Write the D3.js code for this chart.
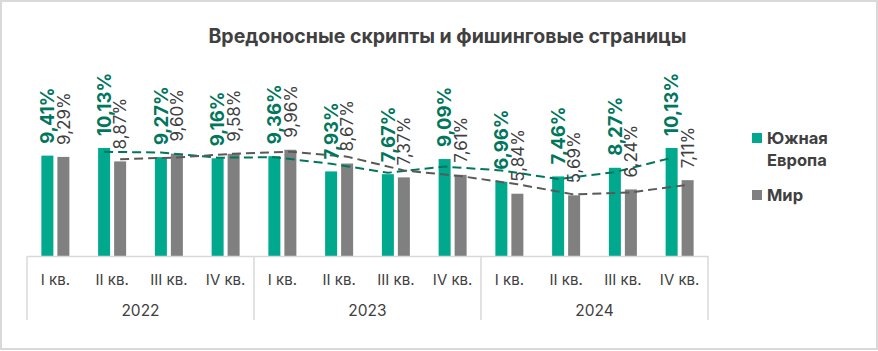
<!DOCTYPE html>
<html><head><meta charset="utf-8">
<script src="https://cdn.jsdelivr.net/npm/d3@7"></script>
<style>
html,body{margin:0;padding:0;background:#fff;}
svg{display:block;font-family:Inter,"Noto Sans",sans-serif;}
</style></head>
<body>
<svg id="chart" width="878" height="351"></svg>
<script>
const title = "Вредоносные скрипты и фишинговые страницы";
const quarters = ["I кв.","II кв.","III кв.","IV кв.","I кв.","II кв.","III кв.","IV кв.","I кв.","II кв.","III кв.","IV кв."];
const years = ["2022","2023","2024"];
const seriesNames = ["Южная Европа","Мир"];
const southEurope = [9.41,10.13,9.27,9.16,9.36,7.93,7.67,9.09,6.96,7.46,8.27,10.13];
const world = [9.29,8.87,9.60,9.58,9.96,8.67,7.37,7.61,5.84,5.69,6.24,7.11];
const barColors = ["#00a88e","#808080"];
const labelColors = ["#00765d","#404040"];
const trendColors = ["#00765d","#595959"];

const svg = d3.select("#chart");
const W = 878, H = 351;
svg.append("rect").attr("x",1).attr("y",1).attr("width",W-2).attr("height",H-3)
  .attr("fill","#fff").attr("stroke","#d9d9d9").attr("stroke-width",2);

svg.append("text").attr("x",447.5).attr("y",43).attr("text-anchor","middle")
  .attr("font-size",19.5).attr("font-weight",700).attr("fill","#404040").text(title);

const idx = d3.range(quarters.length);
const x = d3.scaleBand().domain(idx).range([27,708]).padding(0);
const xs = d3.scaleBand().domain([0,1]).range([-14,14]).paddingInner(0.25);
const y = d3.scaleLinear().domain([0,12]).range([256,128]);
const data = [southEurope, world];

const cx = (i,s) => x(i) + x.bandwidth()/2 + xs(s) + xs.bandwidth()/2;

// bars
data.forEach((vals,s)=>{
  svg.append("g").selectAll("rect").data(vals).join("rect")
    .attr("x",(d,i)=>x(i)+x.bandwidth()/2+xs(s))
    .attr("width",xs.bandwidth())
    .attr("y",d=>y(d)).attr("height",d=>y(0)-y(d))
    .attr("fill",barColors[s]);
});

// trendlines: moving average (period 2)
data.forEach((vals,s)=>{
  const pts = d3.pairs(vals).map((p,k)=>[cx(k+1,s), y((p[0]+p[1])/2)]);
  svg.append("path").attr("d",d3.line().curve(d3.curveLinear)(pts))
    .attr("fill","none").attr("stroke",trendColors[s]).attr("stroke-width",2)
    .attr("stroke-dasharray","9,5");
});

// labels
const fmt = v => v.toFixed(2).replace(".",",")+"%";
data.forEach((vals,s)=>{
  svg.append("g").selectAll("text").data(vals).join("text")
    .attr("transform",(d,i)=>`translate(${cx(i,s)},${y(d)-12}) rotate(-90)`)
    .attr("dy","0.36em")
    .attr("font-size",s===0?18.5:17).attr("font-weight",s===0?700:400)
    .attr("fill",labelColors[s]).text(d=>fmt(d));
});

// axis
const axisG = svg.append("g").attr("transform",`translate(0,${y(0)})`)
  .call(d3.axisBottom(x).tickSize(0).tickFormat(i=>quarters[i]));
axisG.select(".domain").attr("stroke","#d9d9d9").attr("stroke-width",1.5);
axisG.selectAll(".tick text").attr("font-size",15).attr("fill","#404040")
  .attr("font-family",'Inter,"Noto Sans",sans-serif').attr("dy",0).attr("y",28.5);

// group separators and years
const groupSize = 4;
d3.range(years.length+1).forEach(g=>{
  const gx = g<years.length ? x(g*groupSize) : x(quarters.length-1)+x.bandwidth();
  svg.append("line").attr("x1",gx).attr("x2",gx).attr("y1",y(0)).attr("y2",320)
    .attr("stroke","#d9d9d9").attr("stroke-width",1.5);
});
svg.append("g").selectAll("text").data(years).join("text")
  .attr("x",(d,g)=>(x(g*groupSize)+x(g*groupSize+groupSize-1)+x.bandwidth())/2)
  .attr("y",315.5).attr("text-anchor","middle").attr("font-size",15.5).attr("fill","#404040")
  .text(d=>d);

// legend
const legendLines = [["Южная","Европа"],["Мир"]];
const legY = [133,190];
legendLines.forEach((lines,s)=>{
  svg.append("rect").attr("x",752).attr("y",legY[s]).attr("width",10).attr("height",10).attr("fill",barColors[s]);
  const t = svg.append("text").attr("x",767).attr("y",legY[s]+11).attr("font-size",16.5)
    .attr("font-weight",700).attr("fill","#404040");
  lines.forEach((l,k)=>t.append("tspan").attr("x",767).attr("dy",k===0?0:22).text(l));
});
</script>
</body></html>
